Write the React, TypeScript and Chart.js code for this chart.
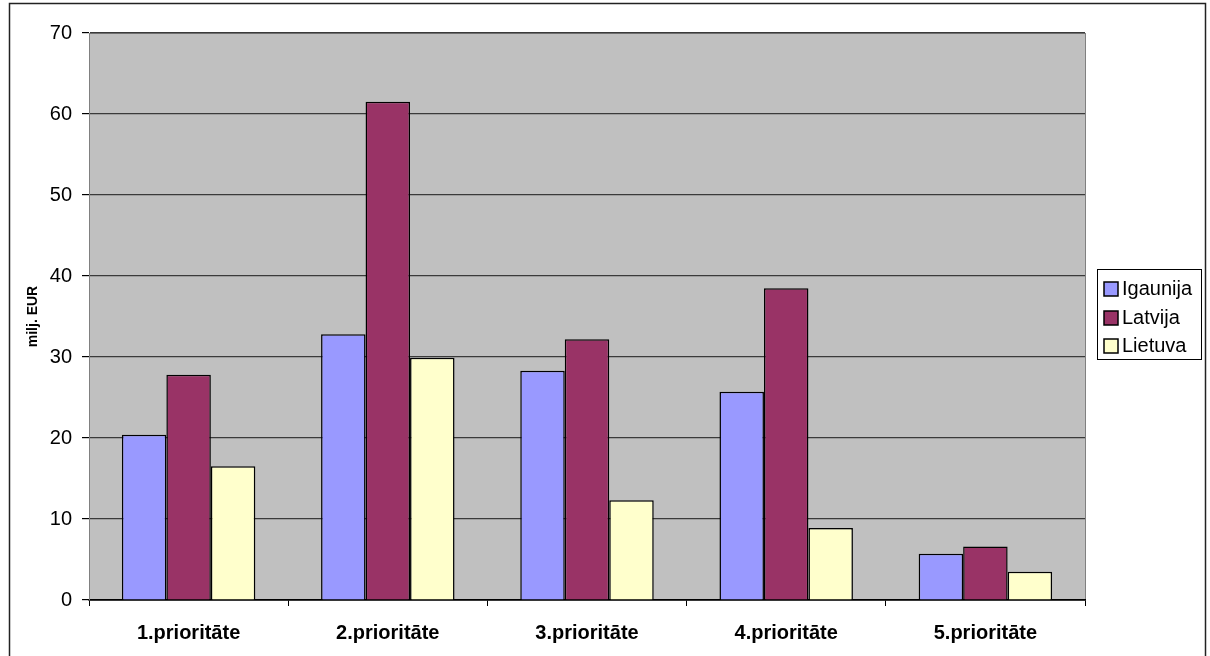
import React, { useEffect, useRef } from "react";
import { Chart, registerables } from "chart.js";

Chart.register(...registerables);

const categories = ["1.prioritāte", "2.prioritāte", "3.prioritāte", "4.prioritāte", "5.prioritāte"];
const seriesNames = ["Igaunija", "Latvija", "Lietuva"];
const igaunija = [20.4, 32.8, 28.3, 25.7, 5.7];
const latvija = [27.8, 61.5, 32.2, 38.5, 6.6];
const lietuva = [16.5, 29.9, 12.3, 8.9, 3.5];
const seriesColors = ["#9999FF", "#993366", "#FFFFCC"];
const yTitle = "milj. EUR";
const yMin = 0;
const yMax = 70;
const yStep = 10;

const FONT = "'Liberation Sans', Arial, sans-serif";

const decorPlugin = {
  id: "decor",
  beforeDraw(chart: any) {
    const { ctx, chartArea } = chart;
    ctx.save();
    ctx.fillStyle = "#ffffff";
    ctx.fillRect(0, 0, chart.width, chart.height);
    ctx.fillStyle = "#C0C0C0";
    ctx.fillRect(chartArea.left, chartArea.top, chartArea.right - chartArea.left, chartArea.bottom - chartArea.top);
    ctx.strokeStyle = "#808080";
    ctx.lineWidth = 1;
    ctx.strokeRect(chartArea.left + 0.5, chartArea.top + 0.5, chartArea.right - chartArea.left, chartArea.bottom - chartArea.top);
    ctx.restore();
  },
  afterDraw(chart: any) {
    const { ctx } = chart;
    ctx.save();
    // outer frame
    ctx.strokeStyle = "#222";
    ctx.lineWidth = 1.5;
    ctx.strokeRect(9.5, 3.5, 1196, 700);
    // legend
    const lx = 1097.5, ly = 269.5, lw = 104, lh = 90;
    ctx.fillStyle = "#ffffff";
    ctx.fillRect(lx, ly, lw, lh);
    ctx.strokeStyle = "#000";
    ctx.lineWidth = 1;
    ctx.strokeRect(lx, ly, lw, lh);
    const rows = [289, 318, 346];
    chart.data.datasets.forEach((ds: any, i: number) => {
      const y = rows[i];
      ctx.fillStyle = ds.backgroundColor;
      ctx.fillRect(1104, y - 7, 14, 14);
      ctx.strokeStyle = "#000";
      ctx.lineWidth = 1.5;
      ctx.strokeRect(1104, y - 7, 14, 14);
      ctx.fillStyle = "#000";
      ctx.font = `20px ${FONT}`;
      ctx.textAlign = "left";
      ctx.textBaseline = "middle";
      ctx.fillText(ds.label, 1122, y);
    });
    ctx.restore();
  },
};

export default function App() {
  const ref = useRef<HTMLCanvasElement>(null);
  useEffect(() => {
    if (!ref.current) return;
    const data = [igaunija, latvija, lietuva];
    const chart = new Chart(ref.current, {
      type: "bar",
      data: {
        labels: categories,
        datasets: seriesNames.map((name, i) => ({
          label: name,
          data: data[i],
          backgroundColor: seriesColors[i],
          borderColor: "#000000",
          borderWidth: 1.5,
          barPercentage: 1,
          categoryPercentage: 0.67,
        })),
      },
      options: {
        animation: false,
        responsive: false,
        devicePixelRatio: 1,
        layout: { padding: { left: 0, right: 125, top: 33, bottom: 0 } },
        plugins: { legend: { display: false }, tooltip: { enabled: false } },
        scales: {
          x: {
            grid: {
              offset: true,
              drawOnChartArea: false,
              drawTicks: true,
              tickLength: 6,
              color: "#000",
            },
            border: { color: "#000", width: 1.5 },
            ticks: {
              color: "#000",
              font: { family: FONT, size: 20, weight: "bold" },
              padding: 15,
            },
            afterFit(scale: any) {
              scale.height = 56;
            },
          },
          y: {
            min: yMin,
            max: yMax,
            ticks: {
              stepSize: yStep,
              color: "#000",
              font: { family: FONT, size: 20 },
              padding: 10,
            },
            grid: {
              color: "#3a3a3a",
              lineWidth: 1.2,
              tickLength: 7,
              tickColor: "#000",
            },
            border: { color: "#808080", width: 1 },
            title: {
              display: true,
              text: yTitle,
              color: "#000",
              font: { family: FONT, size: 14, weight: "bold" },
              padding: { top: 25, bottom: 0 },
            },
            afterFit(scale: any) {
              scale.width = 89;
            },
          },
        },
      },
      plugins: [decorPlugin],
    });
    return () => chart.destroy();
  }, []);
  return (
    <div style={{ position: "absolute", left: 0, top: 0, width: 1210, height: 656 }}>
      <canvas ref={ref} width={1210} height={656} style={{ display: "block" }} />
    </div>
  );
}
